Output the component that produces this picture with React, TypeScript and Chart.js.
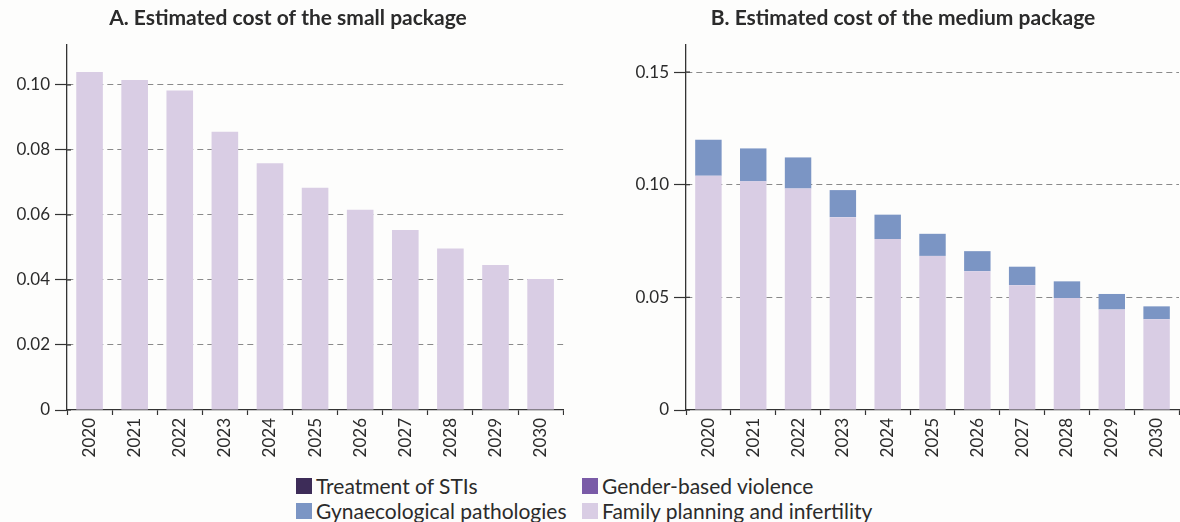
import React, { useEffect, useRef } from 'react';
import { Chart, registerables } from 'chart.js';

Chart.register(...registerables);

const years = ['2020', '2021', '2022', '2023', '2024', '2025', '2026', '2027', '2028', '2029', '2030'];
const familyPlanning = [0.104, 0.1015, 0.0983, 0.0856, 0.0759, 0.0684, 0.0616, 0.0554, 0.0497, 0.0446, 0.0403];
const gynaecological = [0.0159, 0.0146, 0.0138, 0.012, 0.0108, 0.0098, 0.0089, 0.0082, 0.0074, 0.0069, 0.0057];
const stiTreatment = [0, 0, 0, 0, 0, 0, 0, 0, 0, 0, 0];
const genderViolence = [0, 0, 0, 0, 0, 0, 0, 0, 0, 0, 0];
const smallTicks = [0, 0.02, 0.04, 0.06, 0.08, 0.1];
const mediumTicks = [0, 0.05, 0.1, 0.15];

const COLORS = {
  sti: '#3d2c58',
  gbv: '#7a5ba7',
  gyn: '#7b95c4',
  fp: '#d9cde4',
};

const FONT = 'Lato, "Open Sans", sans-serif';
const TEXT = '#2b2b2b';

const innerTicks = {
  id: 'innerTicks',
  afterDraw(chart: any) {
    const y = chart.scales.y;
    if (!y) return;
    const ctx = chart.ctx;
    ctx.save();
    ctx.strokeStyle = '#333';
    ctx.lineWidth = 1.2;
    y.ticks.forEach((t: any) => {
      const py = y.getPixelForValue(t.value);
      ctx.beginPath();
      ctx.moveTo(y.right, py);
      ctx.lineTo(y.right + 4, py);
      ctx.stroke();
    });
    ctx.restore();
  },
};

function makeOptions(title: string, ticks: number[], max: number, yWidth: number) {
  return {
    responsive: false,
    animation: false as const,
    layout: { padding: { left: 0, right: 0, top: 0, bottom: 0 } },
    plugins: {
      legend: { display: false },
      tooltip: { enabled: false },
      title: {
        display: true,
        text: title,
        color: TEXT,
        font: { family: FONT, size: 21, weight: 'bold' as const },
        padding: { top: 6, bottom: 13.8 },
      },
    },
    scales: {
      x: {
        stacked: true,
        offset: true,
        grid: {
          offset: true,
          drawOnChartArea: false,
          drawTicks: true,
          tickLength: 5,
          tickColor: '#333',
          tickWidth: 1.2,
        },
        border: { display: true, color: '#333', width: 1.3 },
        ticks: {
          color: TEXT,
          font: { family: FONT, size: 17 },
          minRotation: 90,
          maxRotation: 90,
          padding: 3,
          autoSkip: false,
        },
        afterFit: (scale: any) => {
          scale.height = 60;
        },
      },
      y: {
        stacked: true,
        min: 0,
        max,
        afterBuildTicks: (scale: any) => {
          scale.ticks = ticks.map((v) => ({ value: v }));
        },
        afterFit: (scale: any) => {
          scale.width = yWidth;
        },
        grid: {
          color: (ctx: any) => (ctx.tick && ctx.tick.value === 0 ? 'rgba(0,0,0,0)' : '#8a8a8a'),
          lineWidth: 1,
          drawTicks: true,
          tickLength: 12,
          tickColor: '#333',
          tickWidth: 1.2,
          tickBorderDash: [],
        },
        border: { display: true, color: '#333', width: 1.3, dash: [6, 4] },
        ticks: {
          color: TEXT,
          font: { family: FONT, size: 17 },
          padding: 5,
          callback: (v: any) => (Number(v) === 0 ? '0' : Number(v).toFixed(2)),
        },
      },
    },
  };
}

function SmallChart() {
  const ref = useRef<HTMLCanvasElement | null>(null);
  useEffect(() => {
    if (!ref.current) return;
    const chart = new Chart(ref.current, {
      type: 'bar',
      data: {
        labels: years,
        datasets: [
          {
            label: 'Family planning and infertility',
            data: familyPlanning,
            backgroundColor: COLORS.fp,
            barPercentage: 0.59,
            categoryPercentage: 1,
          },
        ],
      },
      options: makeOptions('A. Estimated cost of the small package', smallTicks, 0.1123, 55) as any,
      plugins: [innerTicks],
    });
    return () => chart.destroy();
  }, []);
  return <canvas ref={ref} width={552} height={470} style={{ position: 'absolute', left: 12, top: 0 }} />;
}

function MediumChart() {
  const ref = useRef<HTMLCanvasElement | null>(null);
  useEffect(() => {
    if (!ref.current) return;
    const common = { barPercentage: 0.59, categoryPercentage: 1 };
    const chart = new Chart(ref.current, {
      type: 'bar',
      data: {
        labels: years,
        datasets: [
          { label: 'Family planning and infertility', data: familyPlanning, backgroundColor: COLORS.fp, ...common },
          { label: 'Gynaecological pathologies', data: gynaecological, backgroundColor: COLORS.gyn, ...common },
          { label: 'Gender-based violence', data: genderViolence, backgroundColor: COLORS.gbv, ...common },
          { label: 'Treatment of STIs', data: stiTreatment, backgroundColor: COLORS.sti, ...common },
        ],
      },
      options: makeOptions('B. Estimated cost of the medium package', mediumTicks, 0.162, 60) as any,
      plugins: [innerTicks],
    });
    return () => chart.destroy();
  }, []);
  return <canvas ref={ref} width={554} height={470} style={{ position: 'absolute', left: 626, top: 0 }} />;
}

const legendItems = [
  { label: 'Treatment of STIs', color: COLORS.sti, left: 296, top: 475 },
  { label: 'Gender-based violence', color: COLORS.gbv, left: 582, top: 475 },
  { label: 'Gynaecological pathologies', color: COLORS.gyn, left: 296, top: 500 },
  { label: 'Family planning and infertility', color: COLORS.fp, left: 582, top: 500 },
];

export default function App() {
  return (
    <div
      style={{
        position: 'absolute',
        left: 0,
        top: 0,
        width: 1180,
        height: 522,
        background: '#fdfdfc',
        overflow: 'hidden',
        fontFamily: FONT,
      }}
    >
      <SmallChart />
      <MediumChart />
      {legendItems.map((it) => (
        <div
          key={it.label}
          style={{
            position: 'absolute',
            left: it.left,
            top: it.top,
            height: 22,
            display: 'flex',
            alignItems: 'center',
            whiteSpace: 'nowrap',
          }}
        >
          <span style={{ display: 'inline-block', width: 16, height: 16, background: it.color, marginRight: 4 }} />
          <span style={{ fontSize: 21, color: TEXT, lineHeight: '22px' }}>{it.label}</span>
        </div>
      ))}
    </div>
  );
}
